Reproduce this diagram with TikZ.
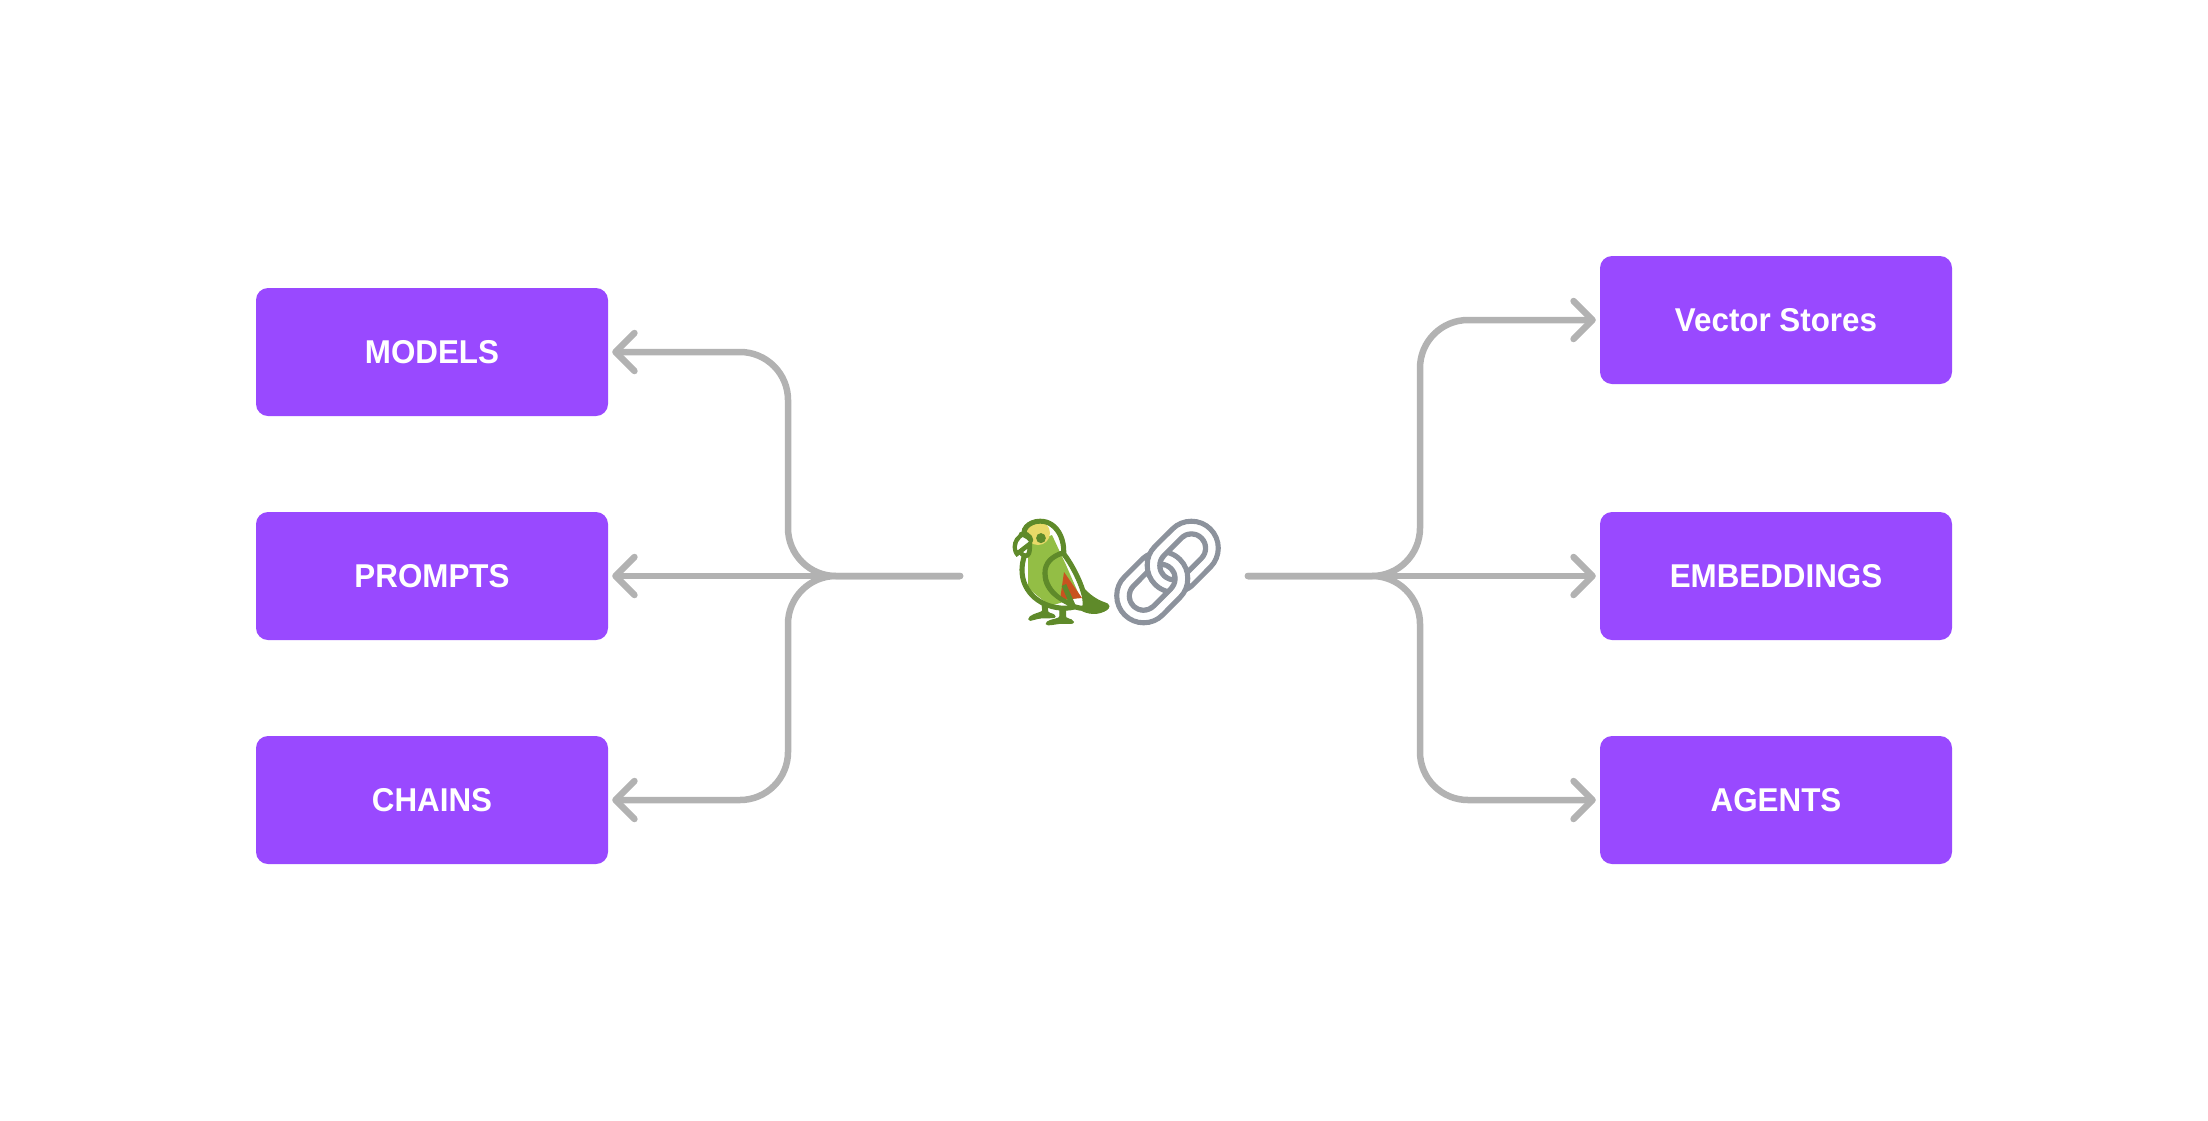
\documentclass[tikz,border=0pt]{standalone}
\usepackage{fontspec}
\usepackage{tikz}
\usetikzlibrary{arrows.meta}
\setmainfont{Liberation Sans}[FakeStretch=0.95]
\newfontfamily\emojifont{Noto Emoji}[FakeBold=1]
\definecolor{boxviolet}{HTML}{9949FF}
\definecolor{wiregray}{HTML}{B2B2B2}
\definecolor{parrotgreen}{HTML}{93BE45}
\definecolor{parrotdark}{HTML}{5F8A2A}
\definecolor{parrotyellow}{HTML}{E9D968}
\definecolor{parrotred}{HTML}{C9521F}
\definecolor{linksteel}{HTML}{8C929C}
\tikzset{
	block/.style={rectangle,rounded corners=12pt,fill=boxviolet,text=white,minimum width=352pt,minimum height=128pt,font=\fontsize{33}{33}\selectfont\bfseries},
	wire/.style={draw=wiregray,line width=6.5pt,line cap=round,rounded corners=48pt,shorten >=4pt,-{Straight Barb[length=19pt,width=38pt,round]}},
	emoji/.style={font=\fontsize{104}{104}\selectfont\emojifont}
}

\begin{document}
\begin{tikzpicture}[x=1pt,y=-1pt]
	\useasboundingbox (0,0) rectangle (2208,1120);

	\node [block] (models) at (432,352) {MODELS};
	\node [block] (prompts) at (432,576) {PROMPTS};
	\node [block] (chains) at (432,800) {CHAINS};
	\node [block] (stores) at (1776,320) {Vector Stores};
	\node [block] (embeddings) at (1776,576) {EMBEDDINGS};
	\node [block] (agents) at (1776,800) {AGENTS};

	% parrot colours under the glyph
	\fill [parrotgreen] (1028,545) -- (1052,535) -- (1066,565) -- (1080,597) -- (1050,606) -- (1028,588) -- cycle;
	\fill [parrotyellow] (1038,533) circle (12);
	\fill [parrotred] (1064,572) -- (1082,598) -- (1060,600) -- cycle;

	\node [emoji,text=parrotdark] (parrot) at (1061,572) {🦜};
	\node [emoji,text=linksteel] (chainlink) at (1167.5,572) {🔗};

	\coordinate (hubl) at (960,576);
	\coordinate (hubr) at (1248,576);
	\coordinate (busl) at (788,576);
	\coordinate (busr) at (1420,576);

	\draw [wire] (hubl) -- (busl) |- (models.east);
	\draw [wire] (hubl) -- (prompts.east);
	\draw [wire] (hubl) -- (busl) |- (chains.east);
	\draw [wire] (hubr) -- (busr) |- (stores.west);
	\draw [wire] (hubr) -- (embeddings.west);
	\draw [wire] (hubr) -- (busr) |- (agents.west);
\end{tikzpicture}
\end{document}
